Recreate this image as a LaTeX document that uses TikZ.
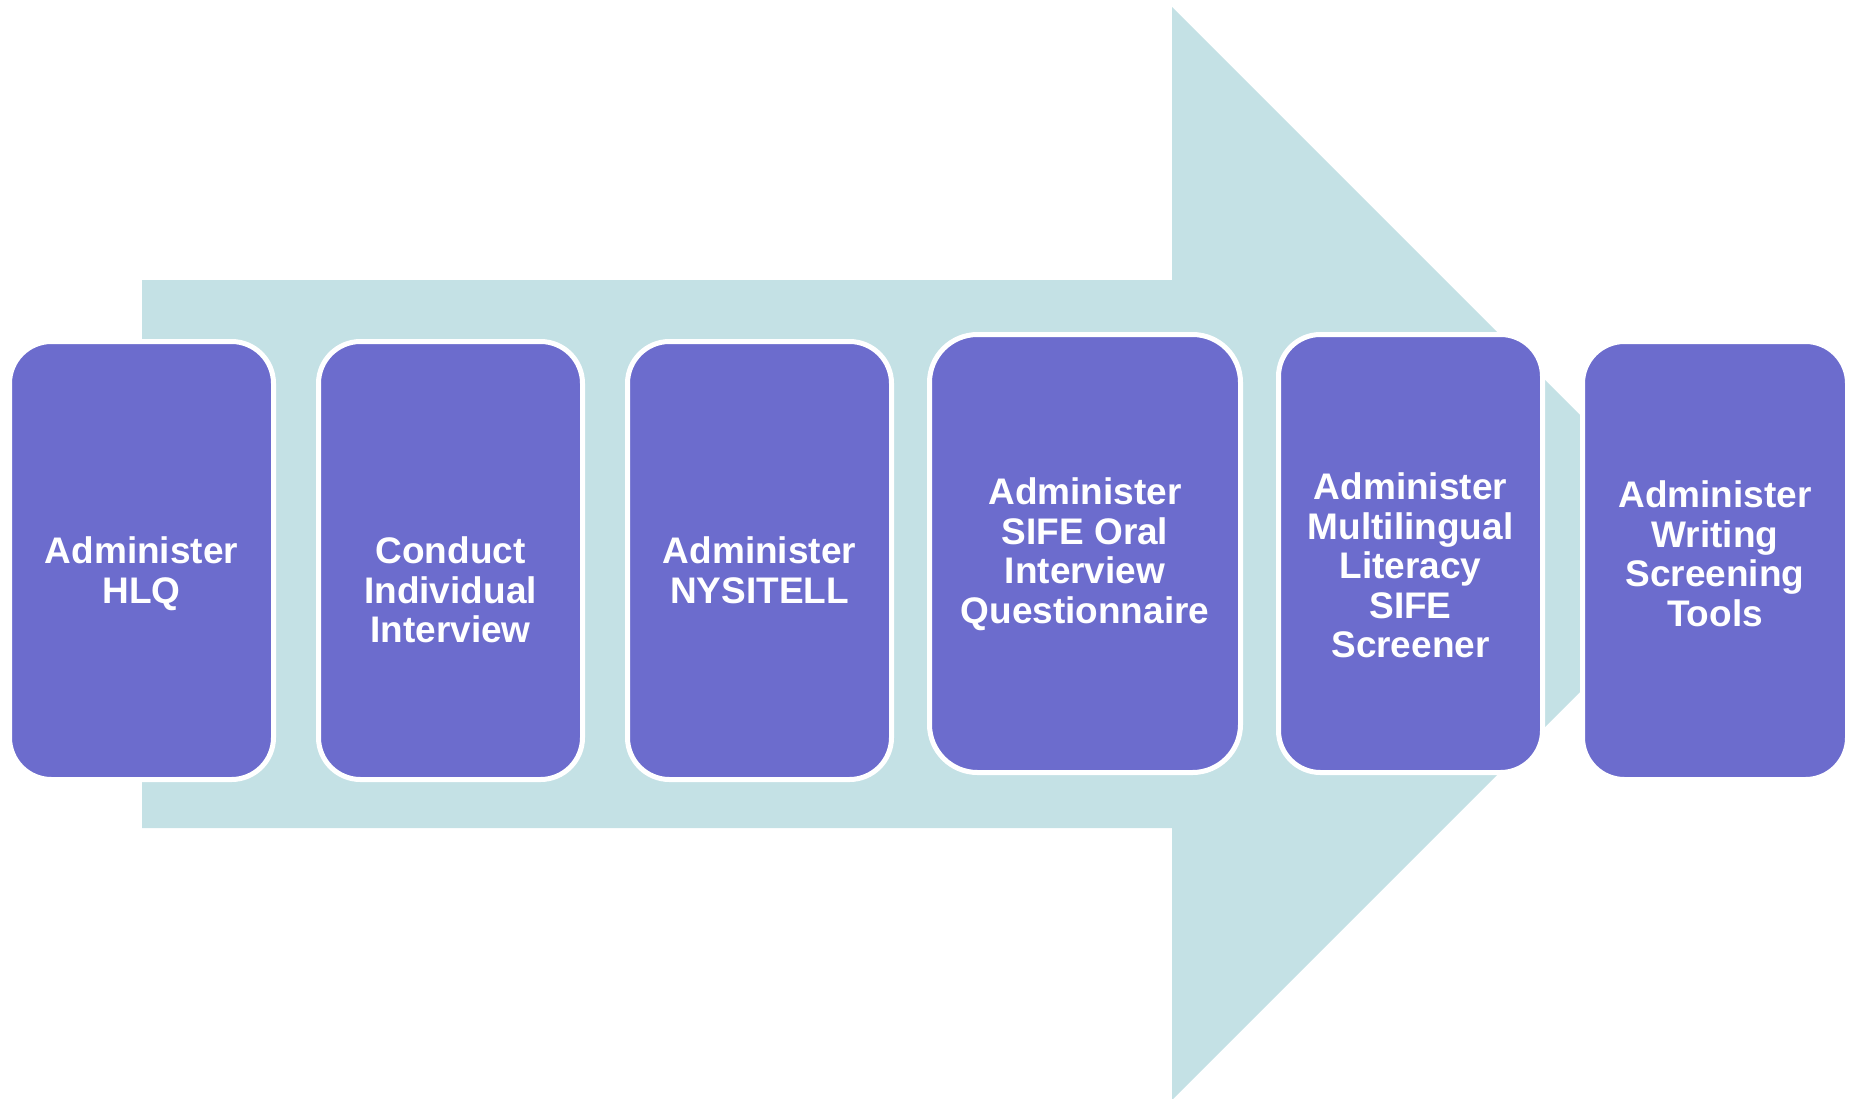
\documentclass[tikz,border=0pt]{standalone}
\usepackage{fontspec}
\setmainfont{Liberation Sans}
\definecolor{arrowcyan}{HTML}{C4E1E5}
\definecolor{boxpurple}{HTML}{6C6CCD}
\begin{document}
\begin{tikzpicture}[x=1pt,y=-1pt,
  stepbox/.style={fill=boxpurple, draw=white, line width=5pt, rounded corners=42pt,
    minimum width=264pt, minimum height=438pt, inner sep=0pt},
  widebox/.style={stepbox, rounded corners=48pt, minimum width=311pt},
  steptext/.style={text=white, font=\fontsize{37}{39.5}\selectfont\bfseries,
    align=center, inner sep=0pt, anchor=north}]
\useasboundingbox (0,0) rectangle (1849,1098);
% big background arrow
\fill[arrowcyan] (142,280) -- (1172,280) -- (1172,7) -- (1718.5,553.5)
  -- (1172,1100) -- (1172,828) -- (142,828) -- cycle;
% boxes
\node[stepbox] (b1) at (141.5,560.5) {};
\node[stepbox] (b2) at (450.5,560.5) {};
\node[stepbox] (b3) at (759.5,560.5) {};
\node[widebox] (b4) at (1085,553.5) {};
\node[stepbox] (b5) at (1410.5,553.5) {};
\node[stepbox,minimum width=265pt] (b6) at (1715,560.5) {};
% texts
\node[steptext] (t1) at (141.5,536.5) {Administer\\HLQ};
\node[steptext] (t2) at (450.5,536.5) {Conduct\\Individual\\Interview};
\node[steptext] (t3) at (759.5,536.5) {Administer\\NYSITELL};
\node[steptext] (t4) at (1085,477.5) {Administer\\SIFE Oral\\Interview\\Questionnaire};
\node[steptext] (t5) at (1410.5,472.5) {Administer\\Multilingual\\Literacy\\SIFE\\Screener};
\node[steptext] (t6) at (1715,480.5) {Administer\\Writing\\Screening\\Tools};
\end{tikzpicture}
\end{document}
